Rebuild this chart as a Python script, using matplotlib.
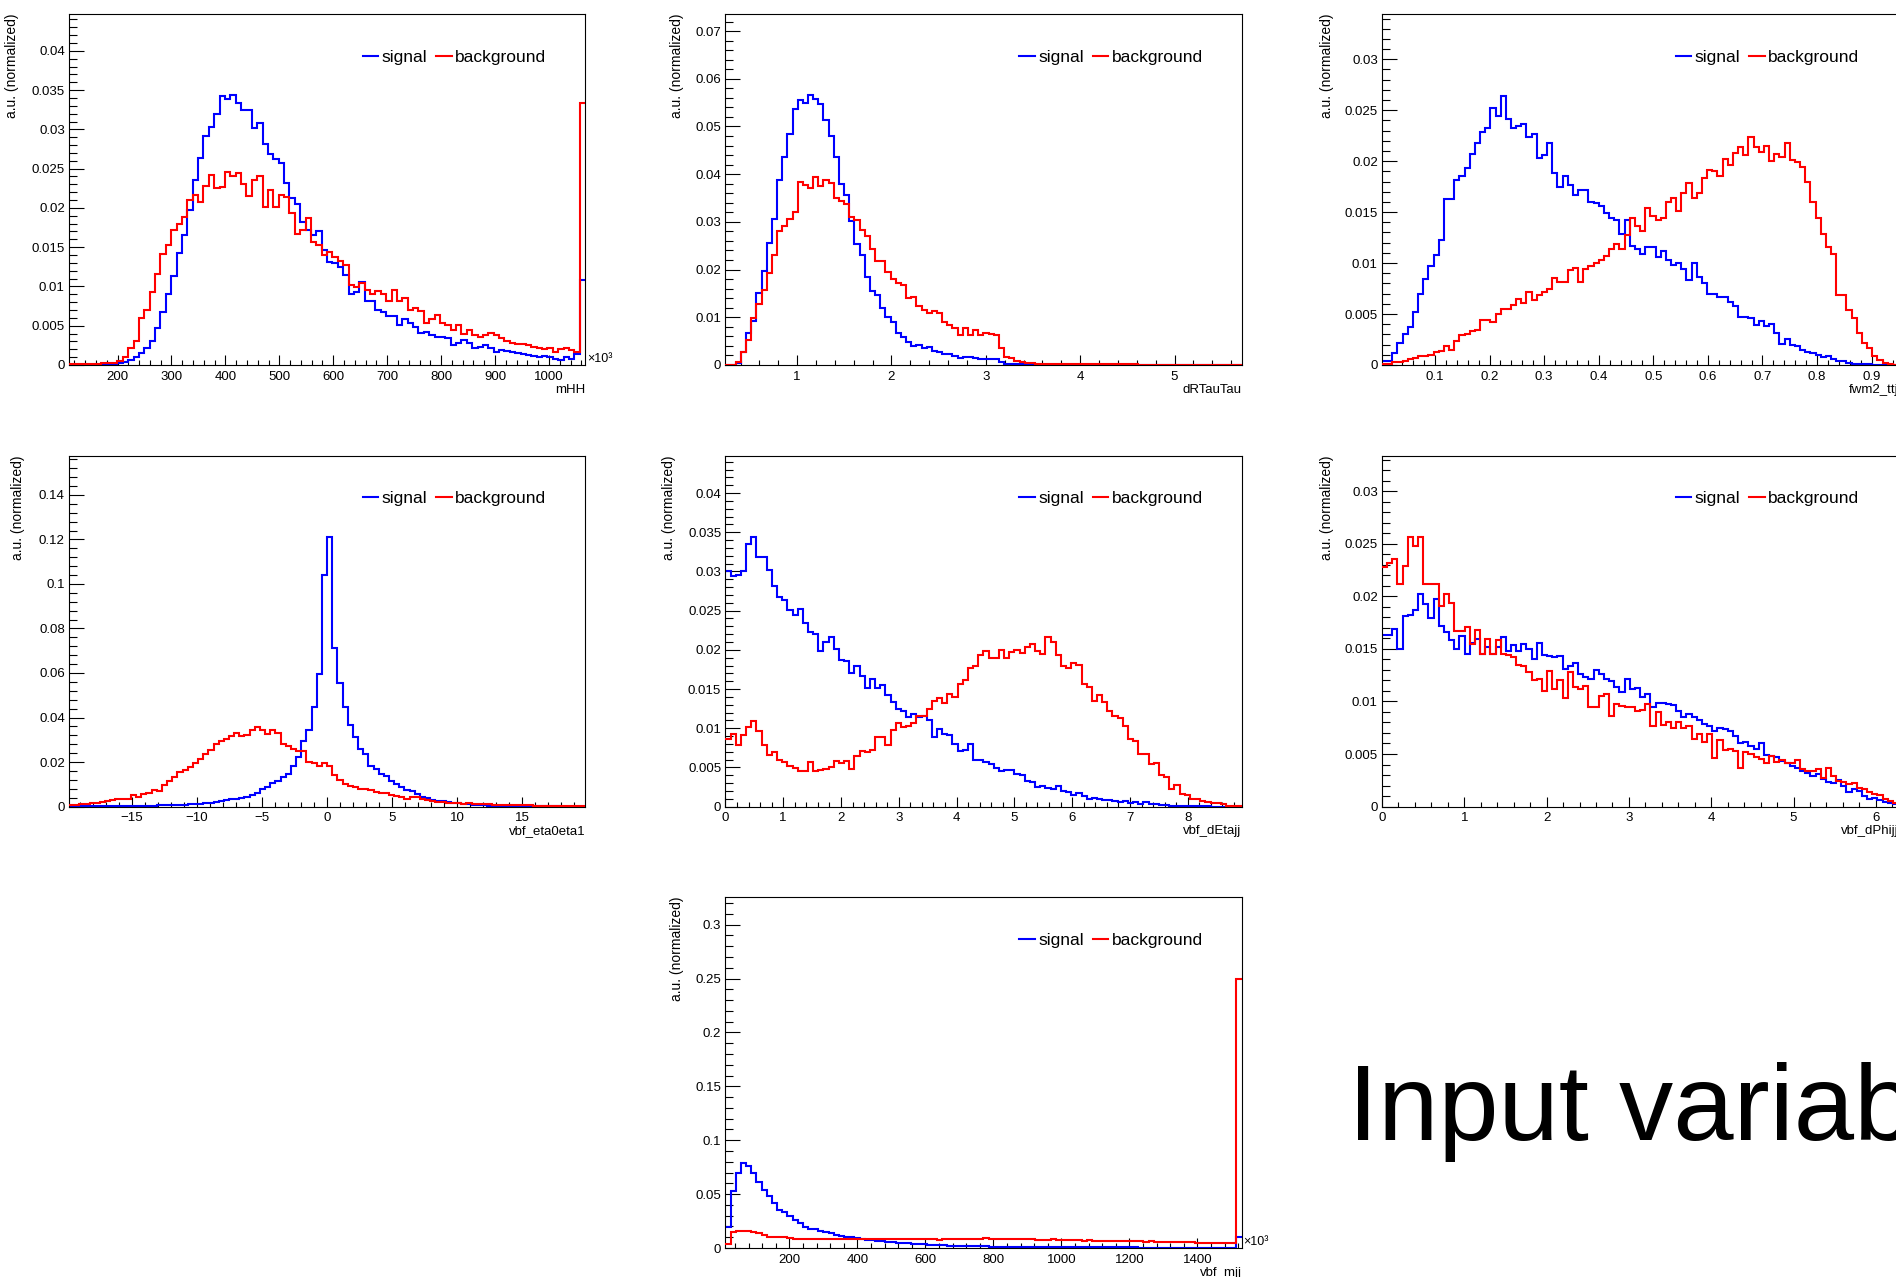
import numpy as np
import matplotlib
matplotlib.use('Agg')
import matplotlib.pyplot as plt
from matplotlib.ticker import MultipleLocator, FuncFormatter
from matplotlib.lines import Line2D

plt.rcParams['font.family'] = ['Liberation Sans', 'DejaVu Sans']

# -------------------- data: normalized bin contents --------------------
mhh_range = [110, 1067]
mhh_sig = [0, 0, 0, 0, 0, 0, 0, 0, 0,
           0.0002, 0.0004, 0.0006, 0.0010, 0.0015, 0.0022, 0.0030, 0.0047, 0.0068, 0.0091, 0.0113,
           0.0143, 0.0165, 0.0197, 0.0235, 0.0264, 0.0291, 0.0303, 0.0320, 0.0342, 0.0339,
           0.0344, 0.0333, 0.0325, 0.0325, 0.0302, 0.0308, 0.0281, 0.0268, 0.0262, 0.0257,
           0.0232, 0.0212, 0.0205, 0.0182, 0.0172, 0.0165, 0.0171, 0.0147, 0.0131, 0.0130,
           0.0125, 0.0115, 0.0091, 0.0093, 0.0106, 0.0081, 0.0081, 0.0070, 0.0068, 0.0062,
           0.0062, 0.0051, 0.0059, 0.0053, 0.0048, 0.0041, 0.0042, 0.0038, 0.0035, 0.0035,
           0.0034, 0.0025, 0.0028, 0.0032, 0.0028, 0.0021, 0.0023, 0.0025, 0.0021, 0.0017,
           0.0019, 0.0018, 0.0016, 0.0015, 0.0014, 0.0013, 0.0011, 0.0010, 0.0011, 0.0010,
           0.0007, 0.0006, 0.0010, 0.0008, 0.0014, 0.0108]
mhh_bkg = [0.0001, 0.0001, 0.0001, 0.0001, 0.0001, 0.0001, 0.0002, 0.0002, 0.0003,
           0.0005, 0.0010, 0.0022, 0.0030, 0.0060, 0.0070, 0.0093, 0.0116, 0.0141, 0.0153, 0.0172,
           0.0180, 0.0189, 0.0210, 0.0216, 0.0207, 0.0228, 0.0242, 0.0225, 0.0227, 0.0246,
           0.0240, 0.0244, 0.0231, 0.0215, 0.0235, 0.0240, 0.0201, 0.0223, 0.0201, 0.0216,
           0.0214, 0.0193, 0.0167, 0.0172, 0.0187, 0.0156, 0.0153, 0.0140, 0.0144, 0.0138,
           0.0133, 0.0127, 0.0102, 0.0099, 0.0104, 0.0095, 0.0091, 0.0094, 0.0091, 0.0081,
           0.0095, 0.0081, 0.0085, 0.0070, 0.0072, 0.0069, 0.0054, 0.0059, 0.0064, 0.0054,
           0.0051, 0.0045, 0.0051, 0.0040, 0.0045, 0.0038, 0.0036, 0.0038, 0.0041, 0.0038,
           0.0034, 0.0030, 0.0028, 0.0027, 0.0027, 0.0025, 0.0023, 0.0021, 0.0020, 0.0022,
           0.0017, 0.0020, 0.0022, 0.0019, 0.0017, 0.0333]

drtt_range = [0.24, 5.71]
drtt_sig = [0, 0, 0.0005, 0.0028, 0.0066, 0.0093, 0.0150, 0.0198, 0.0255, 0.0306,
            0.0388, 0.0437, 0.0484, 0.0537, 0.0556, 0.0550, 0.0565, 0.0557, 0.0548, 0.0513,
            0.0480, 0.0435, 0.0379, 0.0357, 0.0301, 0.0254, 0.0231, 0.0185, 0.0156, 0.0147,
            0.0119, 0.0101, 0.0090, 0.0066, 0.0059, 0.0049, 0.0040, 0.0042, 0.0036, 0.0038,
            0.0030, 0.0028, 0.0022, 0.0024, 0.0019, 0.0015, 0.0016, 0.0017, 0.0014, 0.0013,
            0.0013, 0.0013, 0.0012, 0.0007, 0.0003, 0.0002, 0.0001, 0.0001, 0.0001, 0,
            0, 0, 0, 0, 0, 0, 0, 0, 0, 0,
            0, 0, 0, 0, 0, 0, 0, 0, 0, 0,
            0, 0, 0, 0, 0, 0, 0, 0, 0, 0,
            0, 0, 0, 0, 0, 0, 0, 0, 0, 0]
drtt_bkg = [0, 0, 0.0007, 0.0028, 0.0052, 0.0098, 0.0128, 0.0157, 0.0192, 0.0231,
            0.0280, 0.0292, 0.0306, 0.0320, 0.0383, 0.0378, 0.0371, 0.0395, 0.0376, 0.0387,
            0.0381, 0.0350, 0.0343, 0.0338, 0.0311, 0.0304, 0.0283, 0.0271, 0.0243, 0.0217,
            0.0217, 0.0194, 0.0180, 0.0171, 0.0168, 0.0140, 0.0143, 0.0124, 0.0115, 0.0108,
            0.0114, 0.0108, 0.0091, 0.0084, 0.0077, 0.0062, 0.0077, 0.0062, 0.0073, 0.0063,
            0.0066, 0.0064, 0.0062, 0.0035, 0.0017, 0.0014, 0.0009, 0.0006, 0.0005, 0.0004,
            0.0003, 0.0003, 0.0002, 0.0002, 0.0002, 0.0002, 0.0001, 0.0001, 0.0001, 0.0001,
            0.0001, 0.0001, 0.0001, 0.0001, 0.0001, 0.0001, 0.0001, 0.0001, 0.0001, 0.0001,
            0, 0, 0, 0, 0, 0, 0, 0, 0, 0,
            0, 0, 0, 0, 0, 0, 0, 0, 0, 0]

fwm_range = [0.003, 0.9485]
fwm_sig = [0.0004, 0.0004, 0.0012, 0.0022, 0.0030, 0.0037, 0.0052, 0.0070, 0.0084, 0.0097,
           0.0108, 0.0123, 0.0163, 0.0163, 0.0182, 0.0185, 0.0193, 0.0207, 0.0218, 0.0229,
           0.0233, 0.0252, 0.0244, 0.0264, 0.0241, 0.0233, 0.0235, 0.0236, 0.0224, 0.0227,
           0.0203, 0.0206, 0.0218, 0.0188, 0.0175, 0.0185, 0.0177, 0.0167, 0.0172, 0.0172,
           0.0160, 0.0159, 0.0156, 0.0149, 0.0144, 0.0142, 0.0129, 0.0142, 0.0117, 0.0114,
           0.0109, 0.0116, 0.0116, 0.0106, 0.0112, 0.0103, 0.0098, 0.0100, 0.0094, 0.0083,
           0.0100, 0.0086, 0.0080, 0.0070, 0.0070, 0.0067, 0.0067, 0.0062, 0.0058, 0.0047,
           0.0047, 0.0046, 0.0039, 0.0043, 0.0038, 0.0040, 0.0031, 0.0021, 0.0025, 0.0020,
           0.0019, 0.0015, 0.0013, 0.0012, 0.0010, 0.0008, 0.0009, 0.0006, 0.0004, 0.0004,
           0.0002, 0.0001, 0.0001, 0.0001, 0.0001, 0, 0, 0, 0, 0]
fwm_bkg = [0.0001, 0.0001, 0.0003, 0.0003, 0.0004, 0.0006, 0.0007, 0.0009, 0.0009, 0.0010,
           0.0013, 0.0014, 0.0019, 0.0015, 0.0024, 0.0029, 0.0030, 0.0033, 0.0034, 0.0044,
           0.0044, 0.0042, 0.0050, 0.0055, 0.0055, 0.0059, 0.0065, 0.0061, 0.0072, 0.0064,
           0.0069, 0.0072, 0.0075, 0.0085, 0.0081, 0.0081, 0.0093, 0.0095, 0.0081, 0.0094,
           0.0097, 0.0100, 0.0103, 0.0107, 0.0114, 0.0119, 0.0114, 0.0128, 0.0144, 0.0136,
           0.0131, 0.0154, 0.0146, 0.0142, 0.0144, 0.0160, 0.0164, 0.0151, 0.0169, 0.0179,
           0.0164, 0.0169, 0.0183, 0.0191, 0.0190, 0.0185, 0.0202, 0.0196, 0.0208, 0.0214,
           0.0206, 0.0224, 0.0214, 0.0209, 0.0215, 0.0200, 0.0207, 0.0204, 0.0218, 0.0201,
           0.0199, 0.0194, 0.0180, 0.0160, 0.0144, 0.0129, 0.0116, 0.0109, 0.0069, 0.0069,
           0.0054, 0.0046, 0.0031, 0.0022, 0.0017, 0.0009, 0.0005, 0.0002, 0.0001, 0]

eta_range = [-19.85, 19.85]
eta_sig = [0.0001, 0.0001, 0.0001, 0.0001, 0.0001, 0.0001, 0.0001, 0.0001, 0.0001, 0.0001,
           0.0003, 0.0003, 0.0003, 0.0003, 0.0003, 0.0004, 0.0004, 0.0005, 0.0005, 0.0006,
           0.0007, 0.0008, 0.0009, 0.0010, 0.0011, 0.0012, 0.0014, 0.0017, 0.0020, 0.0024,
           0.0028, 0.0034, 0.0035, 0.0037, 0.0042, 0.0050, 0.0060, 0.0080, 0.0090, 0.0105,
           0.0117, 0.0135, 0.0147, 0.0180, 0.0222, 0.0296, 0.0344, 0.0446, 0.0596, 0.1038,
           0.1210, 0.0711, 0.0554, 0.0449, 0.0367, 0.0314, 0.0259, 0.0234, 0.0184, 0.0169,
           0.0147, 0.0139, 0.0114, 0.0102, 0.0087, 0.0075, 0.0069, 0.0057, 0.0045, 0.0039,
           0.0030, 0.0027, 0.0024, 0.0019, 0.0016, 0.0015, 0.0012, 0.0012, 0.0009, 0.0007,
           0.0005, 0.0004, 0.0003, 0.0003, 0.0002, 0.0002, 0.0002, 0.0001, 0.0001, 0.0001,
           0.0001, 0.0001, 0.0001, 0.0001, 0.0001, 0, 0, 0, 0, 0]
eta_bkg = [0.0006, 0.0007, 0.0010, 0.0012, 0.0014, 0.0017, 0.0022, 0.0026, 0.0030, 0.0033,
           0.0034, 0.0034, 0.0050, 0.0042, 0.0057, 0.0060, 0.0075, 0.0069, 0.0099, 0.0117,
           0.0132, 0.0154, 0.0162, 0.0177, 0.0195, 0.0214, 0.0237, 0.0255, 0.0281, 0.0296,
           0.0304, 0.0319, 0.0329, 0.0319, 0.0322, 0.0344, 0.0356, 0.0344, 0.0326, 0.0344,
           0.0329, 0.0281, 0.0274, 0.0259, 0.0249, 0.0249, 0.0199, 0.0195, 0.0184, 0.0195,
           0.0180, 0.0142, 0.0120, 0.0102, 0.0091, 0.0087, 0.0079, 0.0079, 0.0075, 0.0064,
           0.0061, 0.0061, 0.0054, 0.0049, 0.0045, 0.0034, 0.0042, 0.0042, 0.0034, 0.0030,
           0.0024, 0.0021, 0.0019, 0.0016, 0.0015, 0.0015, 0.0012, 0.0015, 0.0012, 0.0012,
           0.0010, 0.0010, 0.0009, 0.0008, 0.0008, 0.0007, 0.0006, 0.0006, 0.0005, 0.0005,
           0.0004, 0.0003, 0.0003, 0.0003, 0.0002, 0.0002, 0.0002, 0.0001, 0.0001, 0.0001]

deta_range = [0.0, 8.93]
deta_sig = [0.0300, 0.0294, 0.0295, 0.0301, 0.0335, 0.0344, 0.0319, 0.0319, 0.0302, 0.0282,
            0.0267, 0.0263, 0.0251, 0.0245, 0.0252, 0.0234, 0.0223, 0.0220, 0.0199, 0.0210,
            0.0217, 0.0201, 0.0187, 0.0186, 0.0170, 0.0180, 0.0167, 0.0151, 0.0163, 0.0151,
            0.0155, 0.0143, 0.0133, 0.0125, 0.0122, 0.0114, 0.0118, 0.0114, 0.0115, 0.0110,
            0.0089, 0.0099, 0.0092, 0.0091, 0.0080, 0.0071, 0.0072, 0.0080, 0.0060, 0.0060,
            0.0057, 0.0054, 0.0049, 0.0045, 0.0047, 0.0047, 0.0042, 0.0040, 0.0032, 0.0031,
            0.0025, 0.0026, 0.0024, 0.0023, 0.0026, 0.0020, 0.0018, 0.0015, 0.0017, 0.0013,
            0.0010, 0.0011, 0.0010, 0.0009, 0.0009, 0.0007, 0.0006, 0.0007, 0.0004, 0.0006,
            0.0003, 0.0006, 0.0003, 0.0003, 0.0002, 0.0002, 0.0001, 0.0001, 0.0001, 0.0001,
            0.0001, 0.0001, 0.0001, 0.0001, 0, 0, 0, 0, 0, 0]
deta_bkg = [0.0086, 0.0092, 0.0079, 0.0091, 0.0102, 0.0109, 0.0097, 0.0078, 0.0066, 0.0069,
            0.0060, 0.0057, 0.0052, 0.0049, 0.0046, 0.0046, 0.0057, 0.0046, 0.0047, 0.0048,
            0.0050, 0.0058, 0.0055, 0.0058, 0.0048, 0.0065, 0.0071, 0.0069, 0.0072, 0.0089,
            0.0089, 0.0079, 0.0098, 0.0106, 0.0102, 0.0103, 0.0106, 0.0115, 0.0115, 0.0125,
            0.0135, 0.0139, 0.0132, 0.0144, 0.0140, 0.0157, 0.0162, 0.0177, 0.0179, 0.0193,
            0.0199, 0.0189, 0.0189, 0.0200, 0.0189, 0.0197, 0.0200, 0.0196, 0.0203, 0.0207,
            0.0199, 0.0195, 0.0217, 0.0210, 0.0193, 0.0180, 0.0177, 0.0183, 0.0181, 0.0157,
            0.0152, 0.0135, 0.0143, 0.0133, 0.0122, 0.0116, 0.0113, 0.0103, 0.0086, 0.0084,
            0.0067, 0.0067, 0.0054, 0.0055, 0.0040, 0.0038, 0.0023, 0.0027, 0.0016, 0.0015,
            0.0010, 0.0010, 0.0007, 0.0006, 0.0004, 0.0004, 0.0003, 0.0001, 0.0001, 0.0001]

dphi_range = [0.0, 6.27]
dphi_sig = [0.0163, 0.0163, 0.0169, 0.0150, 0.0181, 0.0182, 0.0187, 0.0202, 0.0193, 0.0179,
            0.0197, 0.0172, 0.0166, 0.0158, 0.0150, 0.0162, 0.0145, 0.0156, 0.0159, 0.0145,
            0.0152, 0.0145, 0.0152, 0.0161, 0.0148, 0.0154, 0.0148, 0.0155, 0.0150, 0.0140,
            0.0156, 0.0144, 0.0143, 0.0142, 0.0143, 0.0131, 0.0134, 0.0137, 0.0126, 0.0123,
            0.0121, 0.0130, 0.0126, 0.0121, 0.0119, 0.0114, 0.0109, 0.0121, 0.0112, 0.0113,
            0.0104, 0.0107, 0.0095, 0.0099, 0.0099, 0.0098, 0.0097, 0.0091, 0.0085, 0.0088,
            0.0085, 0.0082, 0.0079, 0.0077, 0.0072, 0.0075, 0.0074, 0.0072, 0.0067, 0.0060,
            0.0061, 0.0058, 0.0055, 0.0060, 0.0049, 0.0048, 0.0047, 0.0043, 0.0041, 0.0039,
            0.0037, 0.0034, 0.0032, 0.0029, 0.0031, 0.0026, 0.0023, 0.0022, 0.0025, 0.0020,
            0.0014, 0.0017, 0.0015, 0.0010, 0.0007, 0.0008, 0.0006, 0.0004, 0.0003, 0.0002]
dphi_bkg = [0.0228, 0.0232, 0.0236, 0.0212, 0.0229, 0.0256, 0.0248, 0.0256, 0.0212, 0.0212,
            0.0212, 0.0191, 0.0202, 0.0194, 0.0167, 0.0167, 0.0171, 0.0155, 0.0168, 0.0145,
            0.0159, 0.0145, 0.0158, 0.0145, 0.0144, 0.0142, 0.0135, 0.0134, 0.0128, 0.0120,
            0.0121, 0.0110, 0.0129, 0.0112, 0.0120, 0.0103, 0.0128, 0.0114, 0.0112, 0.0115,
            0.0095, 0.0095, 0.0105, 0.0107, 0.0086, 0.0098, 0.0096, 0.0095, 0.0095, 0.0091,
            0.0092, 0.0098, 0.0077, 0.0090, 0.0078, 0.0080, 0.0075, 0.0080, 0.0075, 0.0077,
            0.0064, 0.0069, 0.0061, 0.0069, 0.0046, 0.0063, 0.0054, 0.0055, 0.0053, 0.0037,
            0.0052, 0.0050, 0.0047, 0.0045, 0.0041, 0.0048, 0.0042, 0.0044, 0.0041, 0.0041,
            0.0044, 0.0036, 0.0034, 0.0034, 0.0036, 0.0027, 0.0037, 0.0029, 0.0024, 0.0023,
            0.0021, 0.0022, 0.0018, 0.0017, 0.0014, 0.0012, 0.0011, 0.0007, 0.0005, 0.0003]

mjj_range = [12, 1530]
mjj_sig = [0.0192, 0.0533, 0.0693, 0.0786, 0.0765, 0.0693, 0.0610, 0.0539, 0.0486, 0.0415,
           0.0353, 0.0331, 0.0300, 0.0260, 0.0229, 0.0198, 0.0176, 0.0176, 0.0155, 0.0146,
           0.0136, 0.0124, 0.0115, 0.0105, 0.0099, 0.0090, 0.0084, 0.0077, 0.0071, 0.0068,
           0.0062, 0.0059, 0.0053, 0.0050, 0.0046, 0.0043, 0.0040, 0.0037, 0.0034, 0.0031,
           0.0028, 0.0026, 0.0024, 0.0022, 0.0021, 0.0020, 0.0018, 0.0017, 0.0016, 0.0015,
           0.0015, 0.0014, 0.0013, 0.0013, 0.0012, 0.0012, 0.0011, 0.0011, 0.0010, 0.0010,
           0.0010, 0.0009, 0.0009, 0.0009, 0.0008, 0.0008, 0.0008, 0.0008, 0.0007, 0.0007,
           0.0007, 0.0006, 0.0006, 0.0006, 0.0006, 0.0005, 0.0005, 0.0005, 0.0005, 0.0005,
           0.0004, 0.0004, 0.0004, 0.0004, 0.0004, 0.0004, 0.0004, 0.0003, 0.0003, 0.0003,
           0.0003, 0.0003, 0.0003, 0.0003, 0.0003, 0.0003, 0.0003, 0.0003, 0.0003, 0.0105]
mjj_bkg = [0.0037, 0.0146, 0.0161, 0.0161, 0.0155, 0.0146, 0.0136, 0.0124, 0.0105, 0.0099,
           0.0105, 0.0099, 0.0093, 0.0084, 0.0086, 0.0085, 0.0084, 0.0083, 0.0082, 0.0083,
           0.0082, 0.0081, 0.0083, 0.0082, 0.0084, 0.0086, 0.0087, 0.0085, 0.0084, 0.0086,
           0.0084, 0.0083, 0.0081, 0.0082, 0.0083, 0.0082, 0.0080, 0.0082, 0.0081, 0.0083,
           0.0085, 0.0078, 0.0083, 0.0086, 0.0087, 0.0085, 0.0084, 0.0082, 0.0086, 0.0088,
           0.0090, 0.0087, 0.0084, 0.0085, 0.0082, 0.0080, 0.0082, 0.0079, 0.0080, 0.0079,
           0.0078, 0.0077, 0.0078, 0.0080, 0.0076, 0.0074, 0.0072, 0.0070, 0.0071, 0.0069,
           0.0070, 0.0068, 0.0067, 0.0069, 0.0066, 0.0066, 0.0068, 0.0067, 0.0065, 0.0063,
           0.0062, 0.0060, 0.0061, 0.0058, 0.0059, 0.0060, 0.0057, 0.0056, 0.0058, 0.0055,
           0.0052, 0.0050, 0.0049, 0.0051, 0.0048, 0.0046, 0.0045, 0.0045, 0.0044, 0.2498]

# -------------------- panel settings --------------------
panels = [
    dict(xlabel='mHH', rng=mhh_range, sig=mhh_sig, bkg=mhh_bkg, ytop=0.0447,
         ymaj=0.005, xmaj=100, cell=(0, 0), ylab_x=-0.111, x10=True),
    dict(xlabel='dRTauTau', rng=drtt_range, sig=drtt_sig, bkg=drtt_bkg, ytop=0.0736,
         ymaj=0.01, xmaj=1, cell=(0, 1), ylab_x=-0.094, x10=False),
    dict(xlabel='fwm2_ttj', rng=fwm_range, sig=fwm_sig, bkg=fwm_bkg, ytop=0.03445,
         ymaj=0.005, xmaj=0.1, cell=(0, 2), ylab_x=-0.106, x10=False),
    dict(xlabel='vbf_eta0eta1', rng=eta_range, sig=eta_sig, bkg=eta_bkg, ytop=0.1577,
         ymaj=0.02, xmaj=5, cell=(1, 0), ylab_x=-0.099, x10=False),
    dict(xlabel='vbf_dEtajj', rng=deta_range, sig=deta_sig, bkg=deta_bkg, ytop=0.0448,
         ymaj=0.005, xmaj=1, cell=(1, 1), ylab_x=-0.109, x10=False),
    dict(xlabel='vbf_dPhijj', rng=dphi_range, sig=dphi_sig, bkg=dphi_bkg, ytop=0.0334,
         ymaj=0.005, xmaj=1, cell=(1, 2), ylab_x=-0.106, x10=False),
    dict(xlabel='vbf_mjj', rng=mjj_range, sig=mjj_sig, bkg=mjj_bkg, ytop=0.3257,
         ymaj=0.05, xmaj=200, cell=(2, 1), ylab_x=-0.094, x10=True),
]

col_left = [0.0364, 0.3826, 0.7289]
row_bottom = [0.7142, 0.3684, 0.0227]
ax_w, ax_h = 0.2722, 0.2749


def root_fmt(v, pos):
    return ('%g' % v).replace('-', '\u2212')


fig = plt.figure(figsize=(18.96, 12.77), dpi=100)

for p in panels:
    r, c = p['cell']
    ax = fig.add_axes([col_left[c], row_bottom[r], ax_w, ax_h])
    sig = np.array(p['sig'])
    bkg = np.array(p['bkg'])
    edges = np.linspace(p['rng'][0], p['rng'][1], len(sig) + 1)
    ax.stairs(sig, edges, baseline=None, color='#0000ff', lw=1.5, zorder=2)
    ax.stairs(bkg, edges, baseline=None, color='#ff0000', lw=1.5, zorder=3)

    ax.set_xlim(p['rng'])
    ax.set_ylim(0, p['ytop'])

    for s in ax.spines.values():
        s.set_linewidth(0.8)
        s.set_color('black')
    ax.xaxis.set_major_locator(MultipleLocator(p['xmaj']))
    ax.xaxis.set_minor_locator(MultipleLocator(p['xmaj'] / 5))
    ax.yaxis.set_major_locator(MultipleLocator(p['ymaj']))
    ax.yaxis.set_minor_locator(MultipleLocator(p['ymaj'] / 5))
    ax.xaxis.set_major_formatter(FuncFormatter(root_fmt))
    ax.yaxis.set_major_formatter(FuncFormatter(root_fmt))
    ax.tick_params(axis='both', which='both', direction='in', width=0.8,
                   top=False, right=False, labelsize=9.5)
    ax.tick_params(axis='x', which='major', length=7.5, pad=4)
    ax.tick_params(axis='x', which='minor', length=3.8)
    ax.tick_params(axis='y', which='major', length=11, pad=3)
    ax.tick_params(axis='y', which='minor', length=5.5)

    ax.text(p['ylab_x'], 1.0, 'a.u. (normalized)', rotation=90, ha='center', va='top',
            fontsize=10, transform=ax.transAxes)
    ax.text(1.0, -0.071, p['xlabel'], ha='right', va='center', fontsize=9.5,
            transform=ax.transAxes)
    if p['x10']:
        ax.text(1.004, 0.016, '\u00d710\u00b3', ha='left', va='center', fontsize=9,
                transform=ax.transAxes)

    handles = [Line2D([], [], color='#0000ff', lw=1.5),
               Line2D([], [], color='#ff0000', lw=1.5)]
    ax.legend(handles, ['signal', 'background'], ncol=2, loc='center right',
              bbox_to_anchor=(0.925, 0.877), frameon=False, fontsize=12.5,
              handlelength=0.9, handletextpad=0.2, columnspacing=0.5,
              borderpad=0, borderaxespad=0)

# title text runs past the right edge, as in the original slide
fig.text(0.711, 0.1073, 'Input variables', fontsize=78, ha='left', va='baseline')

fig.savefig('out.png', dpi=100)
